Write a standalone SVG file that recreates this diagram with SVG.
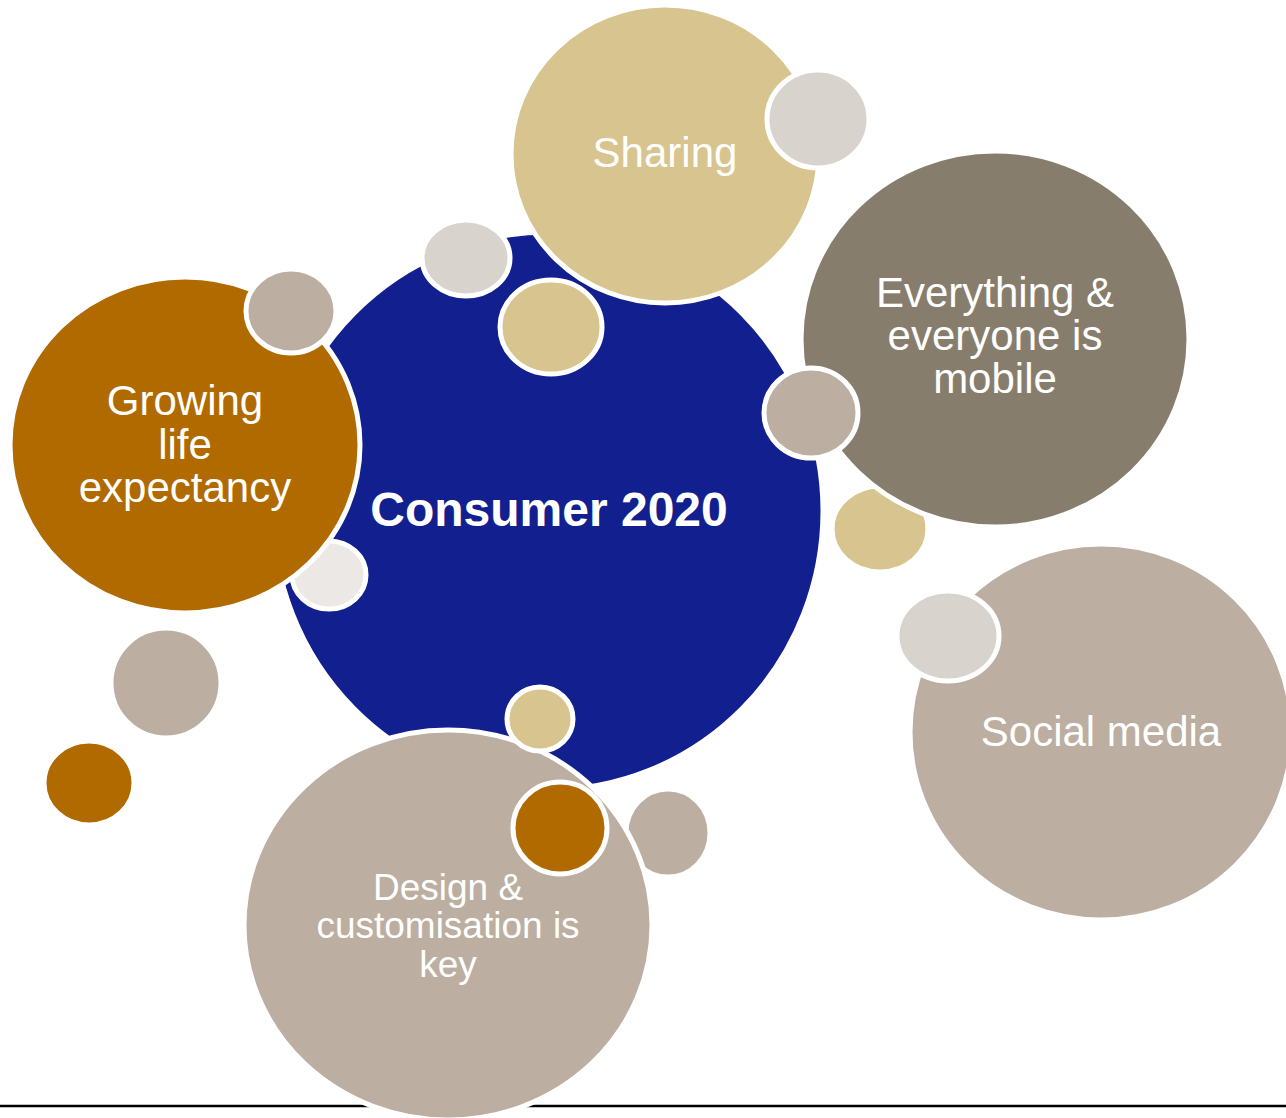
<svg xmlns="http://www.w3.org/2000/svg" width="1286" height="1118" viewBox="0 0 1286 1118">
  <style>
    .b { stroke: #FFFFFF; stroke-width: 5; }
    .blue { fill: #121F8E; }
    .orange { fill: #B06A00; }
    .tan { fill: #D7C48E; }
    .taupe { fill: #877D6C; }
    .grey { fill: #BCAEA1; }
    .light { fill: #D9D3CE; }
    .pale { fill: #ECE8E5; }
    .lbl { font-family: "Liberation Sans", Arial, sans-serif; fill: #FFFFFF; text-anchor: middle; }
  </style>

  <!-- base rule -->
  <line x1="0" y1="1106" x2="1286" y2="1106" stroke="#000000" stroke-width="2.5"/>

  <!-- central bubble -->
  <g id="consumer-2020">
    <ellipse class="blue b" cx="548" cy="511" rx="275" ry="279"/>
  </g>

  <!-- decorative bubbles sitting behind the larger ones -->
  <g id="dot-tan-right">
    <ellipse class="tan b" cx="880" cy="529" rx="48" ry="43"/>
  </g>
  <g id="dot-grey-bottom">
    <ellipse class="grey b" cx="668" cy="833" rx="42" ry="44"/>
  </g>
  <g id="dot-grey-left">
    <ellipse class="grey b" cx="166" cy="683" rx="55" ry="55"/>
  </g>
  <g id="dot-orange-left">
    <ellipse class="orange b" cx="89" cy="783" rx="45" ry="42"/>
  </g>
  <g id="dot-pale-growing">
    <ellipse class="pale b" cx="329" cy="575" rx="37" ry="34"/>
  </g>

  <!-- Growing life expectancy -->
  <g id="growing-life-expectancy">
    <ellipse class="orange b" cx="185" cy="445" rx="175" ry="168"/>
    <text class="lbl" font-size="42" x="185" y="415">Growing</text>
    <text class="lbl" font-size="42" x="185" y="459">life</text>
    <text class="lbl" font-size="42" x="185" y="502">expectancy</text>
  </g>
  <g id="dot-grey-growing">
    <ellipse class="grey b" cx="291" cy="311" rx="45" ry="42"/>
  </g>

  <!-- Sharing -->
  <g id="sharing">
    <ellipse class="tan b" cx="665" cy="154" rx="154" ry="149"/>
    <text class="lbl" font-size="42" x="665" y="167">Sharing</text>
  </g>
  <g id="dot-light-sharing">
    <ellipse class="light b" cx="818" cy="119" rx="51" ry="49"/>
  </g>
  <g id="dot-light-top">
    <ellipse class="light b" cx="466" cy="258" rx="44" ry="38"/>
  </g>
  <g id="dot-tan-top">
    <ellipse class="tan b" cx="551" cy="327" rx="51" ry="47"/>
  </g>

  <!-- Everything & everyone is mobile -->
  <g id="everything-mobile">
    <ellipse class="taupe b" cx="995" cy="339" rx="194" ry="188"/>
    <text class="lbl" font-size="42" x="995" y="307">Everything &amp;</text>
    <text class="lbl" font-size="42" x="995" y="350">everyone is</text>
    <text class="lbl" font-size="42" x="995" y="393">mobile</text>
  </g>
  <g id="dot-grey-mobile">
    <ellipse class="grey b" cx="811" cy="413" rx="47" ry="45"/>
  </g>

  <!-- Social media -->
  <g id="social-media">
    <ellipse class="grey b" cx="1101" cy="732" rx="191" ry="188"/>
    <text class="lbl" font-size="42" x="1101" y="746">Social media</text>
  </g>
  <g id="dot-light-social">
    <ellipse class="light b" cx="948" cy="636" rx="51" ry="45"/>
  </g>

  <!-- Design & customisation is key -->
  <g id="design-customisation">
    <ellipse class="grey b" cx="448" cy="925" rx="204" ry="195"/>
    <text class="lbl" font-size="37" x="448" y="900">Design &amp;</text>
    <text class="lbl" font-size="37" x="448" y="938">customisation is</text>
    <text class="lbl" font-size="37" x="448" y="977">key</text>
  </g>
  <g id="dot-tan-bottom">
    <ellipse class="tan b" cx="540" cy="719" rx="33" ry="32"/>
  </g>
  <g id="dot-orange-bottom">
    <ellipse class="orange b" cx="560" cy="828" rx="47" ry="46"/>
  </g>

  <!-- headline on top of everything -->
  <g id="consumer-2020-label">
    <text class="lbl" font-size="48" font-weight="bold" x="549" y="526">Consumer 2020</text>
  </g>
</svg>
